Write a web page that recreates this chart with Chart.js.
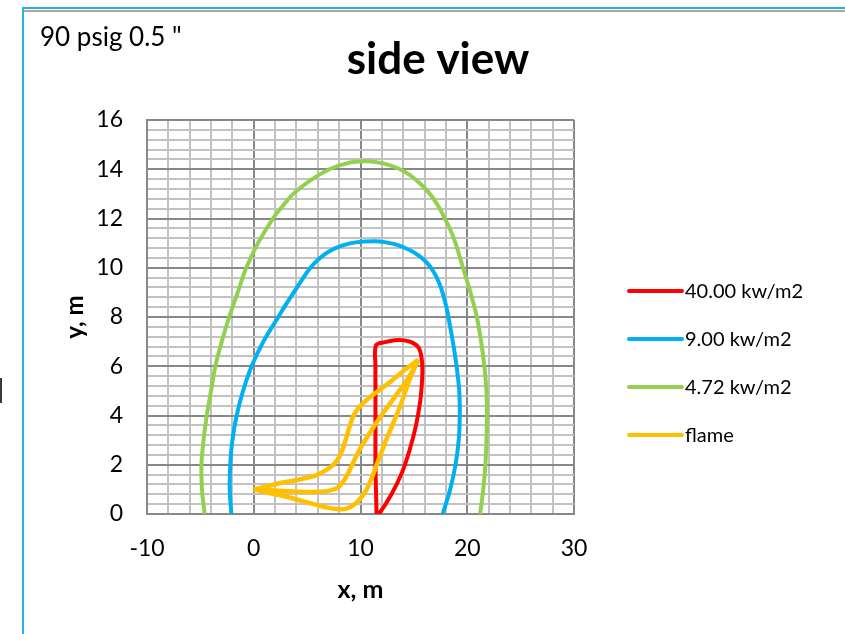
<!DOCTYPE html>
<html>
<head>
<meta charset="utf-8">
<title>side view</title>
<script src="https://cdn.jsdelivr.net/npm/chart.js@4.4.1/dist/chart.umd.min.js"></script>
<style>
  html, body { margin: 0; padding: 0; background: #fff; }
  #wrap { position: relative; width: 845px; height: 634px; overflow: hidden; }
  #frame { position: absolute; left: 22px; top: 7px; right: -4px; bottom: -4px; border-left: 2px solid #29b3dc; border-top: 2px solid #29b3dc; }
  #rule { position: absolute; left: 24px; top: 10px; right: 0; height: 2px; background: #a9a9a9; }
  #edge { position: absolute; left: 0; top: 378px; width: 2px; height: 25px; background: #3a3a3a; }
  canvas { position: absolute; left: 0; top: 0; }
</style>
</head>
<body>
<div id="wrap">
  <div id="frame"></div>
  <div id="rule"></div>
  <div id="edge"></div>
  <canvas id="sideView" width="845" height="634"></canvas>
</div>
<script>
// labelled ticks (minor grid every 2 m in x, 0.4 m in y)
const xTickLabels = [-10, 0, 10, 20, 30];
const yTickLabels = [0, 2, 4, 6, 8, 10, 12, 14, 16];

const seriesNames = ['40.00 kw/m2', '9.00 kw/m2', '4.72 kw/m2', 'flame'];
const seriesColors = ['#ff0000', '#00b0f0', '#92d050', '#ffc000'];

// 40 kw/m2 contour
const kw40X = [11.5, 11.45, 11.4, 11.4, 11.4, 11.4, 11.4, 11.45, 12.3, 13.2, 14.1, 14.9, 15.45, 15.7, 15.8, 15.75, 15.6, 15.2, 14.6, 13.9, 12.9, 11.8, 11.5];
const kw40Y = [0, 1, 2, 3, 4, 5, 6, 6.85, 6.98, 7.06, 7.05, 6.95, 6.75, 6.4, 5.9, 5.3, 4.6, 3.6, 2.6, 1.7, 0.8, 0.05, 0];

// 9 kw/m2 contour
const kw9X = [-2.1, -2.25, -2.2, -2.0, -1.6, -1.0, -0.2, 0.9, 2.3, 3.0, 3.75, 4.5, 5.3, 6.2, 7.2, 8.4, 9.7, 11.3, 12.4, 13.5, 14.6, 15.5, 16.3, 16.9, 17.35, 17.75, 18.1, 18.4, 18.65, 19.0, 19.25, 19.3, 19.2, 18.9, 18.4, 17.7];
const kw9Y = [0, 1, 2, 3, 4, 5, 6, 7, 8, 8.5, 9, 9.5, 10, 10.4, 10.7, 10.92, 11.04, 11.08, 11.03, 10.92, 10.72, 10.48, 10.17, 9.8, 9.4, 8.9, 8.3, 7.6, 7.0, 6, 5, 4, 3, 2, 1, 0];

// 4.72 kw/m2 contour
const kw472X = [-4.6, -4.85, -4.9, -4.7, -4.4, -4.0, -3.6, -3.0, -2.3, -1.5, -0.7, 0.4, 1.8, 2.7, 3.7, 5.3, 7.1, 8.8, 10.4, 11.6, 12.7, 13.6, 14.5, 15.5, 16.4, 17.3, 17.9, 18.45, 18.9, 19.6, 20.3, 20.9, 21.3, 21.6, 21.8, 21.85, 21.8, 21.7, 21.5, 21.2];
const kw472Y = [0, 1, 2, 3, 4, 5, 6, 7, 8, 9, 10, 11, 12, 12.5, 13, 13.55, 14.0, 14.25, 14.32, 14.28, 14.17, 14.02, 13.8, 13.45, 13.05, 12.5, 12, 11.5, 11, 10, 9, 8, 7, 6, 5, 4, 3, 2, 1, 0];

// flame outline: three strokes from the tip to the apex
const flameUpperX = [0, 1.2, 2.4, 3.7, 5.0, 6.0, 6.8, 7.5, 8.05, 8.4, 8.7, 9.0, 9.3, 9.75, 10.25, 11.0, 11.8, 12.8, 13.7, 14.6, 15.4];
const flameUpperY = [1, 1.12, 1.25, 1.35, 1.47, 1.6, 1.79, 2.02, 2.35, 2.72, 3.14, 3.58, 3.96, 4.27, 4.5, 4.78, 5.04, 5.37, 5.7, 6.0, 6.26];
const flameMidX = [0, 2, 4, 5.8, 7.1, 7.9, 8.4, 8.8, 9.2, 9.9, 10.85, 12.1, 13.7, 14.6, 15.4];
const flameMidY = [1, 0.95, 0.91, 0.9, 0.95, 1.08, 1.33, 1.62, 1.98, 2.6, 3.28, 4.09, 5.04, 5.62, 6.26];
const flameLowX = [0, 1.5, 3.1, 4.5, 5.9, 6.9, 7.8, 8.7, 9.6, 10.2, 10.56, 11.0, 11.34, 12.4, 13.7, 14.6, 15.4];
const flameLowY = [1, 0.85, 0.7, 0.53, 0.37, 0.26, 0.2, 0.22, 0.45, 0.75, 0.98, 1.4, 1.79, 3.0, 4.36, 5.45, 6.26];

const FONT = 'Lato, "Open Sans", sans-serif';
const GRID_MAJOR = '#888888';
const GRID_MINOR = '#c2c2c2';

function toPoints(xs, ys) {
    return xs.map((x, i) => ({ x: x, y: ys[i] }));
}

function isLabelled(list, v) {
    return list.some(t => Math.abs(t - v) < 1e-6);
}

function lineSet(label, xs, ys, color, order, width) {
    return {
        label: label,
        data: toPoints(xs, ys),
        borderColor: color,
        backgroundColor: color,
        borderWidth: width,
        pointRadius: 0,
        showLine: true,
        tension: 0.35,
        order: order
    };
}

// titles + legend drawn straight onto the canvas
const decorPlugin = {
    id: 'decor',
    afterDraw(chart) {
        const ctx = chart.ctx;
        ctx.save();
        ctx.fillStyle = '#000';
        ctx.textBaseline = 'middle';

        ctx.font = 'bold 44px ' + FONT;
        ctx.textAlign = 'center';
        ctx.fillText('side view', 438, 60);

        ctx.font = '26px ' + FONT;
        ctx.textAlign = 'left';
        ctx.fillText('90 psig 0.5 "', 40, 38);

        // legend
        ctx.font = '20px ' + FONT;
        ctx.lineCap = 'round';
        ctx.lineWidth = 4;
        seriesNames.forEach((name, i) => {
            const y = 291 + i * 48;
            ctx.strokeStyle = seriesColors[i];
            ctx.beginPath();
            ctx.moveTo(629, y);
            ctx.lineTo(682, y);
            ctx.stroke();
            ctx.fillStyle = '#000';
            ctx.fillText(name, 685, y + 1);
        });
        ctx.restore();
    }
};

new Chart(document.getElementById('sideView'), {
    type: 'scatter',
    data: {
        datasets: [
            lineSet(seriesNames[0], kw40X, kw40Y, seriesColors[0], 1, 4),
            lineSet(seriesNames[1], kw9X, kw9Y, seriesColors[1], 2, 4),
            lineSet(seriesNames[2], kw472X, kw472Y, seriesColors[2], 3, 4),
            lineSet(seriesNames[3], flameUpperX, flameUpperY, seriesColors[3], 0, 4.5),
            lineSet(seriesNames[3], flameMidX, flameMidY, seriesColors[3], 0, 4.5),
            lineSet(seriesNames[3], flameLowX, flameLowY, seriesColors[3], 0, 4.5)
        ]
    },
    options: {
        responsive: false,
        devicePixelRatio: 1,
        animation: false,
        layout: { padding: { left: 57, top: 120, right: 271, bottom: 25 } },
        plugins: {
            legend: { display: false },
            tooltip: { enabled: false }
        },
        scales: {
            x: {
                type: 'linear',
                min: -10,
                max: 30,
                afterFit(scale) { scale.height = 95; },
                ticks: {
                    stepSize: 2,
                    autoSkip: false,
                    maxRotation: 0,
                    padding: 21,
                    color: '#000',
                    font: { family: FONT, size: 23 },
                    callback: v => isLabelled(xTickLabels, v) ? String(v) : ''
                },
                grid: {
                    drawTicks: false,
                    lineWidth: 2,
                    color: c => isLabelled(xTickLabels, c.tick.value) ? GRID_MAJOR : GRID_MINOR
                },
                border: { color: GRID_MAJOR, width: 2 },
                title: {
                    display: true,
                    text: 'x, m',
                    color: '#000',
                    font: { family: FONT, size: 25, weight: 'bold' }
                }
            },
            y: {
                type: 'linear',
                min: 0,
                max: 16,
                afterFit(scale) { scale.width = 90; },
                ticks: {
                    stepSize: 0.4,
                    autoSkip: false,
                    padding: 24,
                    color: '#000',
                    font: { family: FONT, size: 23 },
                    callback: v => isLabelled(yTickLabels, v) ? String(v) : ''
                },
                grid: {
                    drawTicks: false,
                    lineWidth: 2,
                    color: c => isLabelled(yTickLabels, c.tick.value) ? GRID_MAJOR : GRID_MINOR
                },
                border: { color: GRID_MAJOR, width: 2 },
                title: {
                    display: true,
                    text: 'y, m',
                    color: '#000',
                    font: { family: FONT, size: 24, weight: 'bold' }
                }
            }
        }
    },
    plugins: [decorPlugin]
});
</script>
</body>
</html>
